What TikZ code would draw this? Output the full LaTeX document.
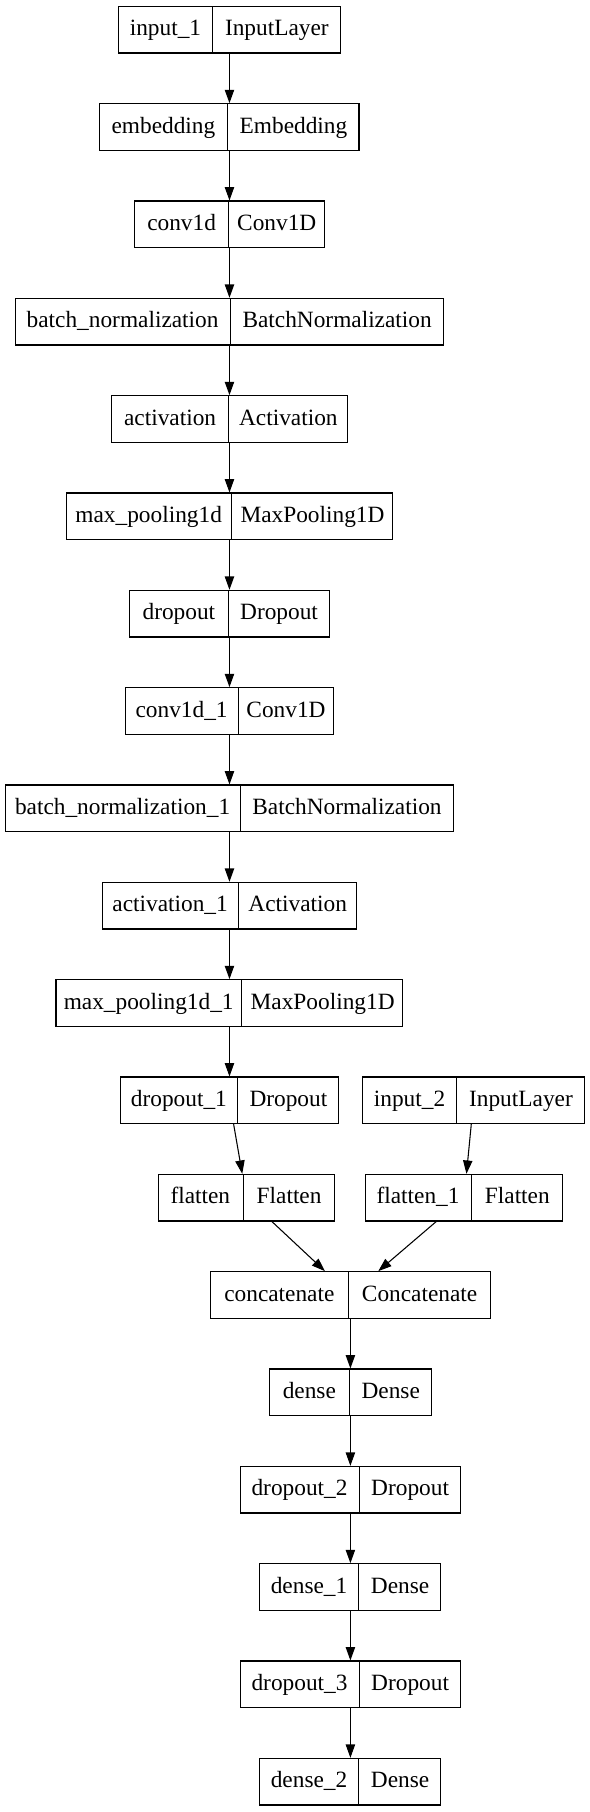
\documentclass[tikz, border=0pt]{standalone}
\usepackage{fontspec}
\setmainfont{Liberation Serif}
\usepackage{tikz}
\usetikzlibrary{shapes.multipart, arrows.meta}

\newcommand{\fld}[2]{\makebox[#1]{\rule[-12.9pt]{0pt}{35pt}#2}}

\tikzset{
    layer/.style = {draw, rectangle split, rectangle split horizontal, rectangle split parts = 2,
        inner xsep = 0pt, inner ysep = 0pt, line width = 0.8pt,
        font = \fontsize{17.5}{21}\selectfont},
    arr/.style = {-{Triangle[length = 10pt, width = 7pt]}, line width = 0.8pt}
}

\begin{document}
\begin{tikzpicture}[x = 1pt, y = -1pt]
        \useasboundingbox (0, 0) rectangle (441.75, 1359);

        \node [layer] (in1) at (172.1, 22.25) {\fld{70.25pt}{input\_1}\nodepart{two}\fld{95.25pt}{InputLayer}};
        \node [layer] (emb) at (172.1, 95.25) {\fld{95.25pt}{embedding}\nodepart{two}\fld{98.25pt}{Embedding}};
        \node [layer] (conv1) at (172.1, 168.25) {\fld{70.1pt}{conv1d}\nodepart{two}\fld{71pt}{Conv1D}};
        \node [layer] (bn1) at (172.1, 241.25) {\fld{160.7pt}{batch\_normalization}\nodepart{two}\fld{159.5pt}{BatchNormalization}};
        \node [layer] (act1) at (172.1, 314.25) {\fld{87.5pt}{activation}\nodepart{two}\fld{88.3pt}{Activation}};
        \node [layer] (pool1) at (172.1, 387.25) {\fld{123.8pt}{max\_pooling1d}\nodepart{two}\fld{120.4pt}{MaxPooling1D}};
        \node [layer] (drop1) at (172.1, 460.25) {\fld{73.6pt}{dropout}\nodepart{two}\fld{75pt}{Dropout}};
        \node [layer] (conv2) at (172.1, 533.25) {\fld{84pt}{conv1d\_1}\nodepart{two}\fld{71pt}{Conv1D}};
        \node [layer] (bn2) at (172.1, 606.25) {\fld{175.5pt}{batch\_normalization\_1}\nodepart{two}\fld{159.5pt}{BatchNormalization}};
        \node [layer] (act2) at (172.1, 679.25) {\fld{101.5pt}{activation\_1}\nodepart{two}\fld{88.3pt}{Activation}};
        \node [layer] (pool2) at (172.1, 752.25) {\fld{139pt}{max\_pooling1d\_1}\nodepart{two}\fld{120.4pt}{MaxPooling1D}};
        \node [layer] (drop2) at (172.1, 825.25) {\fld{87.6pt}{dropout\_1}\nodepart{two}\fld{75pt}{Dropout}};
        \node [layer] (in2) at (355.2, 825.25) {\fld{70.25pt}{input\_2}\nodepart{two}\fld{95.25pt}{InputLayer}};
        \node [layer] (flat1) at (184.8, 898.25) {\fld{63.25pt}{flatten}\nodepart{two}\fld{68.3pt}{Flatten}};
        \node [layer] (flat2) at (348.1, 898.25) {\fld{79pt}{flatten\_1}\nodepart{two}\fld{68.3pt}{Flatten}};
        \node [layer] (concat) at (262.8, 971.25) {\fld{103pt}{concatenate}\nodepart{two}\fld{105.75pt}{Concatenate}};
        \node [layer] (dense1) at (262.8, 1044.25) {\fld{59.75pt}{dense}\nodepart{two}\fld{60.75pt}{Dense}};
        \node [layer] (drop3) at (262.8, 1117.25) {\fld{88.75pt}{dropout\_2}\nodepart{two}\fld{75.5pt}{Dropout}};
        \node [layer] (dense2) at (262.8, 1190.25) {\fld{73.75pt}{dense\_1}\nodepart{two}\fld{61.25pt}{Dense}};
        \node [layer] (drop4) at (262.8, 1263.25) {\fld{88.75pt}{dropout\_3}\nodepart{two}\fld{75.5pt}{Dropout}};
        \node [layer] (dense3) at (262.8, 1336.25) {\fld{73.75pt}{dense\_2}\nodepart{two}\fld{61.25pt}{Dense}};

        \draw [arr] (in1) -- (emb);
        \draw [arr] (emb) -- (conv1);
        \draw [arr] (conv1) -- (bn1);
        \draw [arr] (bn1) -- (act1);
        \draw [arr] (act1) -- (pool1);
        \draw [arr] (pool1) -- (drop1);
        \draw [arr] (drop1) -- (conv2);
        \draw [arr] (conv2) -- (bn2);
        \draw [arr] (bn2) -- (act2);
        \draw [arr] (act2) -- (pool2);
        \draw [arr] (pool2) -- (drop2);
        \draw [arr] (drop2) -- (flat1);
        \draw [arr] (in2) -- (flat2);
        \draw [arr] (flat1) -- (concat);
        \draw [arr] (flat2) -- (concat);
        \draw [arr] (concat) -- (dense1);
        \draw [arr] (dense1) -- (drop3);
        \draw [arr] (drop3) -- (dense2);
        \draw [arr] (dense2) -- (drop4);
        \draw [arr] (drop4) -- (dense3);
    \end{tikzpicture}
\end{document}
